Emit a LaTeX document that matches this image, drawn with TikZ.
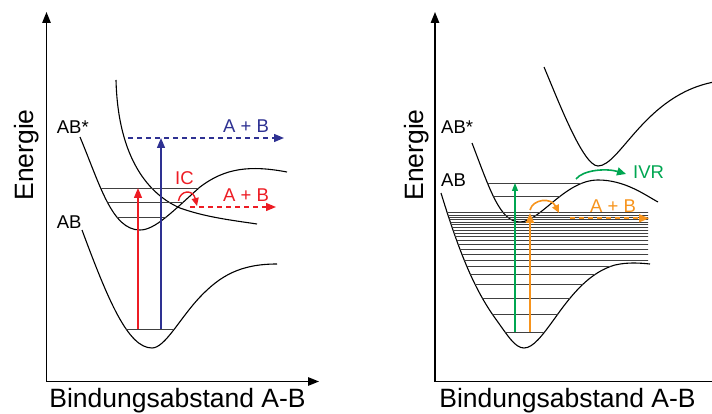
\documentclass[tikz,border=0pt]{standalone}
\usepackage{fontspec}
\setmainfont{Liberation Sans}
\usetikzlibrary{arrows.meta}
\definecolor{cred}{HTML}{ED1C24}
\definecolor{cblue}{HTML}{2E3192}
\definecolor{cgreen}{HTML}{00A651}
\definecolor{corange}{HTML}{F7941D}
\begin{document}
\begin{tikzpicture}[x=1pt,y=-1pt,
  axisline/.style={line width=1.4pt,{Triangle[length=11pt,width=8.5pt]}-{Triangle[length=11pt,width=8.5pt]}},
  curve/.style={line width=1.1pt,black},
  level/.style={line width=0.9pt,black!75},
  big/.style={font=\fontsize{26.5}{30}\selectfont,inner sep=0pt},
  lbl/.style={font=\fontsize{18.5}{22}\selectfont,inner sep=0pt,anchor=base west},
  tip/.style={-{Triangle[length=10pt,width=8pt]}},
  dashline/.style={dash pattern=on 5pt off 4pt,line width=1.3pt},
]
\useasboundingbox (0,0) rectangle (712,414);

% ---------- axes ----------
\coordinate (y1) at (46.5,12);
\coordinate (o1) at (46.5,381.5);
\coordinate (x1) at (319,381.5);
\draw[axisline,line join=miter] (y1) -- (o1) -- (x1);
\coordinate (y2) at (435,12);
\coordinate (o2) at (435,381.5);
\coordinate (x2) at (714,381.5);
\draw[line width=1.4pt,line join=miter,{Triangle[length=11pt,width=8.5pt]}-] (y2) -- (o2) -- (x2);

% ---------- axis titles ----------
\node[big,rotate=90,anchor=base] (e1) at (33.3,155) {Energie};
\node[big,anchor=base] (b1) at (177.5,407) {Bindungsabstand A-B};
\node[big,rotate=90,anchor=base] (e2) at (423.3,155) {Energie};
\node[big,anchor=base] (b2) at (567.5,407) {Bindungsabstand A-B};

% ---------- labels ----------
\node[lbl] (ABs1) at (56.7,133.3) {AB*};
\node[lbl] (AB1) at (56.7,228.3) {AB};
\node[lbl] (ABs2) at (441,133.3) {AB*};
\node[lbl] (AB2) at (441,186.7) {AB};
\node[lbl,text=cblue] (ab1) at (223,133) {A + B};
\node[lbl,text=cred] (ab2) at (223,202) {A + B};
\node[lbl,text=cred] (ic) at (175,184.3) {IC};
\node[lbl,text=corange] (ab3) at (590,212.7) {A + B};
\node[lbl,text=cgreen] (ivr) at (633,178.3) {IVR};

% ---------- left panel curves ----------
% ground state AB
\draw[curve] (82,230) .. controls (108,300) and (128,348) .. (152,348)
  .. controls (165,348) and (180,318) .. (200,297)
  .. controls (220,276) and (240,264) .. (277,264);
% excited AB*
\draw[curve] (80,137) .. controls (100,185) and (112,230) .. (140,230)
  .. controls (155,230) and (172,212) .. (200,187)
  .. controls (225,168) and (250,165) .. (287,172);
% repulsive state
\draw[curve] (116,80) .. controls (118,160) and (150,195) .. (180,208)
  .. controls (205,217) and (230,220) .. (257,224);

% left levels
\begin{scope}
  \clip (82,230) .. controls (108,300) and (128,348) .. (152,348)
  .. controls (165,348) and (180,318) .. (200,297) -- (200,250) -- (82,250) -- cycle;
  \draw[level] (100,329.3) -- (200,329.3);
\end{scope}
\begin{scope}
  \clip (80,137) .. controls (100,185) and (112,230) .. (140,230)
  .. controls (155,230) and (172,212) .. (200,187)
  .. controls (225,168) and (250,165) .. (287,172) -- (287,100) -- (80,100) -- cycle;
  \draw[level] (90,188) -- (230,188);
  \draw[level] (90,202) -- (230,202);
  \draw[level] (90,217) -- (230,217);
\end{scope}

% ---------- right panel curves ----------
% upper state
\draw[curve] (544,67) .. controls (558,100) and (583,166) .. (598,166)
  .. controls (620,166) and (645,95) .. (714,82);
% AB* with barrier
\draw[curve] (472,143) .. controls (490,190) and (500,222) .. (520,222)
  .. controls (540,222) and (565,180) .. (598,180)
  .. controls (625,180) and (645,195) .. (658,202);
% ground state AB
\draw[curve] (441,193) .. controls (460,255) and (475,290) .. (495,318)
  .. controls (508,336) and (515,348) .. (524,348)
  .. controls (533,348) and (542,336) .. (555,318)
  .. controls (572,294) and (590,272) .. (615,265)
  .. controls (628,262) and (640,263) .. (650,264);

% right ground levels
\begin{scope}
  \clip (441,193) .. controls (460,255) and (475,290) .. (495,318)
  .. controls (508,336) and (515,348) .. (524,348)
  .. controls (533,348) and (542,336) .. (555,318)
  .. controls (572,294) and (590,272) .. (615,265)
  .. controls (628,262) and (640,263) .. (650,264) -- (648,264) -- (648,190) -- (441,190) -- cycle;
  \foreach \yy in {212.7,215,217.3,219.7,222,224.3,227.3,230.3,233.3,236.7,240.7,244.7,249.3,254.3,260,266.7,274.3,284,298.3,314.3,332.3}
    \draw[level] (440,\yy) -- (650,\yy);
\end{scope}
% right AB* levels
\begin{scope}
  \clip (472,143) .. controls (490,190) and (500,222) .. (520,222)
  .. controls (540,222) and (565,180) .. (598,180) -- (598,120) -- (472,120) -- cycle;
  \draw[level] (480,183) -- (600,183);
  \draw[level] (480,196) -- (600,196);
\end{scope}

% ---------- left panel transitions ----------
\coordinate (r0) at (138,329.3);
\coordinate (r1) at (138,188);
\draw[cred,line width=1.4pt,tip] (r0) -- (r1);
\coordinate (bl0) at (161,329.3);
\coordinate (bl1) at (161,138);
\draw[cblue,line width=1.4pt,tip] (bl0) -- (bl1);
\coordinate (bd0) at (128,138);
\coordinate (bd1) at (284,138);
\draw[cblue,dashline,tip] (bd0) -- (bd1);
\coordinate (rd0) at (190,207);
\coordinate (rd1) at (276,207);
\draw[cred,dashline,tip] (rd0) -- (rd1);
\coordinate (h0) at (178.5,201);
\coordinate (h1) at (197,206);
\draw[cred,line width=1.4pt,-{Triangle[length=8pt,width=7pt]}] (h0) .. controls (180,190) and (193,189) .. (h1);

% ---------- right panel transitions ----------
\coordinate (g0) at (515,332.3);
\coordinate (g1) at (515,183);
\draw[cgreen,line width=1.1pt,-{Triangle[length=8pt,width=6pt]}] (g0) -- (g1);
\coordinate (or0) at (530,332.3);
\coordinate (or1) at (530,213);
\draw[corange,line width=2pt,tip] (or0) -- (or1);
\coordinate (oh0) at (530,210);
\coordinate (oh1) at (559,213);
\draw[corange,line width=1.6pt,-{Triangle[length=8pt,width=7pt]}] (oh0) .. controls (533,199) and (551,197) .. (oh1);
\coordinate (od0) at (570,218.3);
\coordinate (od1) at (649,218.3);
\draw[corange,dashline,line width=1.6pt,tip] (od0) -- (od1);
\coordinate (iv0) at (576,179);
\coordinate (iv1) at (626,174);
\draw[cgreen,line width=1.6pt,-{Triangle[length=9pt,width=8pt]}] (iv0) .. controls (583,170) and (606,168) .. (iv1);
\end{tikzpicture}
\end{document}
